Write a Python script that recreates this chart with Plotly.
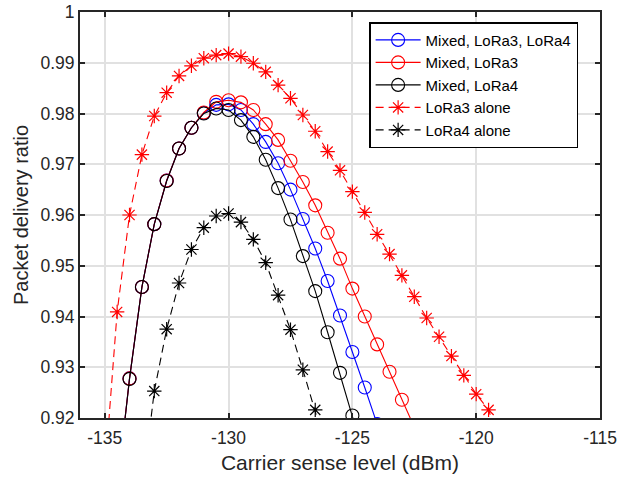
import plotly.graph_objects as go

# ---- data ----
x_mixed34 = [-134.5, -134, -133.5, -133, -132.5, -132, -131.5, -131, -130.5, -130, -129.5,
             -129, -128.5, -128, -127.5, -127, -126.5, -126, -125.5, -125, -124.5, -124]
y_mixed34 = [0.906, 0.9278, 0.9458, 0.9582, 0.9668, 0.9731, 0.9772, 0.9801, 0.9817, 0.9818, 0.9807,
             0.9779, 0.9744, 0.9702, 0.9650, 0.9592, 0.9534, 0.9470, 0.9402, 0.9330, 0.9260, 0.9188]

x_mixed3 = [-134.5, -134, -133.5, -133, -132.5, -132, -131.5, -131, -130.5, -130, -129.5,
            -129, -128.5, -128, -127.5, -127, -126.5, -126, -125.5, -125, -124.5, -124,
            -123.5, -123, -122.5]
y_mixed3 = [0.906, 0.9278, 0.9458, 0.9582, 0.9668, 0.9731, 0.9772, 0.9802, 0.9823, 0.9826, 0.9822,
            0.9807, 0.9779, 0.9748, 0.9707, 0.9665, 0.9619, 0.9565, 0.9514, 0.9455, 0.9400, 0.9345,
            0.9291, 0.9236, 0.9182]

x_mixed4 = [-134.5, -134, -133.5, -133, -132.5, -132, -131.5, -131, -130.5, -130, -129.5,
            -129, -128.5, -128, -127.5, -127, -126.5, -126, -125.5, -125, -124.5]
y_mixed4 = [0.906, 0.9277, 0.9458, 0.9582, 0.9667, 0.9731, 0.9772, 0.9800, 0.9810, 0.9807, 0.9787,
            0.9754, 0.9709, 0.9653, 0.9591, 0.9519, 0.9450, 0.9369, 0.9289, 0.9205, 0.9120]

x_lora3 = [-135, -134.5, -134, -133.5, -133, -132.5, -132, -131.5, -131, -130.5, -130,
           -129.5, -129, -128.5, -128, -127.5, -127, -126.5, -126, -125.5, -125, -124.5,
           -124, -123.5, -123, -122.5, -122, -121.5, -121, -120.5, -120, -119.5, -119]
y_lora3 = [0.909, 0.9409, 0.9600, 0.9719, 0.9795, 0.9841, 0.9874, 0.9894, 0.9909, 0.9915, 0.9918,
           0.9912, 0.9899, 0.9882, 0.9856, 0.9830, 0.9797, 0.9765, 0.9725, 0.9688, 0.9646, 0.9605,
           0.9562, 0.9523, 0.9481, 0.9439, 0.9397, 0.9360, 0.9322, 0.9284, 0.9247, 0.9216, 0.9145]

x_lora4 = [-133.5, -133, -132.5, -132, -131.5, -131, -130.5, -130, -129.5, -129, -128.5,
           -128, -127.5, -127, -126.5, -126]
y_lora4 = [0.905, 0.9253, 0.9375, 0.9466, 0.9532, 0.9575, 0.9598, 0.9603, 0.9586, 0.9552, 0.9506,
           0.9442, 0.9374, 0.9295, 0.9216, 0.9130]

x_ticks = [-135, -130, -125, -120, -115]
x_ticktext = ["-135", "-130", "-125", "-120", "-115"]
y_ticks = [0.92, 0.93, 0.94, 0.95, 0.96, 0.97, 0.98, 0.99, 1.0]
y_ticktext = ["0.92", "0.93", "0.94", "0.95", "0.96", "0.97", "0.98", "0.99", "1"]

FONT = "Liberation Sans, Arial, sans-serif"
DARK = "#262626"

fig = go.Figure()

def circ(color):
    return dict(symbol="circle-open", size=13, color=color, line=dict(width=1.1, color=color))

def star(color):
    return dict(symbol="asterisk-open", size=12, color=color, line=dict(width=1.2, color=color))

fig.add_trace(go.Scatter(x=x_mixed34, y=y_mixed34, mode="lines+markers", name="Mixed, LoRa3, LoRa4",
                         line=dict(color="#0000ff", width=1.1), marker=circ("#0000ff")))
fig.add_trace(go.Scatter(x=x_mixed3, y=y_mixed3, mode="lines+markers", name="Mixed, LoRa3",
                         line=dict(color="#ff0000", width=1.1), marker=circ("#ff0000")))
fig.add_trace(go.Scatter(x=x_mixed4, y=y_mixed4, mode="lines+markers", name="Mixed, LoRa4",
                         line=dict(color="#000000", width=1.1), marker=circ("#000000")))
fig.add_trace(go.Scatter(x=x_lora3, y=y_lora3, mode="lines+markers", name="LoRa3 alone",
                         line=dict(color="#ff0000", width=1.1, dash="8px,5px"), marker=star("#ff0000")))
fig.add_trace(go.Scatter(x=x_lora4, y=y_lora4, mode="lines+markers", name="LoRa4 alone",
                         line=dict(color="#000000", width=1.1, dash="8px,5px"), marker=star("#000000")))

fig.update_layout(
    width=617, height=480,
    margin=dict(l=80, r=17, t=12, b=62, autoexpand=False),
    paper_bgcolor="white", plot_bgcolor="white",
    font=dict(family=FONT, color=DARK, size=14),
    showlegend=True,
    legend=dict(
        x=0.556, y=0.975, xanchor="left", yanchor="top",
        bgcolor="white", bordercolor="#000000", borderwidth=1.5,
        font=dict(family=FONT, size=15, color="#000000"),
        itemwidth=45, tracegroupgap=0,
    ),
)

fig.update_xaxes(
    range=[-136, -115], tickvals=x_ticks, ticktext=x_ticktext,
    automargin=False,
    showgrid=True, gridcolor="#e1e1e1", gridwidth=2,
    showline=True, linecolor=DARK, linewidth=2, mirror="ticks",
    ticks="inside", ticklen=5, tickwidth=2, tickcolor=DARK,
    ticklabelstandoff=3,
    tickfont=dict(size=17.5, color=DARK, family=FONT),
    zeroline=False,
    title=dict(text="Carrier sense level (dBm)", font=dict(size=21, color=DARK, family=FONT), standoff=8),
)
fig.update_yaxes(
    range=[0.92, 1.0], tickvals=y_ticks, ticktext=y_ticktext,
    automargin=False,
    showgrid=True, gridcolor="#e1e1e1", gridwidth=2,
    showline=True, linecolor=DARK, linewidth=2, mirror="ticks",
    ticks="inside", ticklen=5, tickwidth=2, tickcolor=DARK,
    tickfont=dict(size=17.5, color=DARK, family=FONT),
    zeroline=False,
    title=dict(text="Packet delivery ratio", font=dict(size=20, color=DARK, family=FONT), standoff=6),
)

fig.write_html("out.html")
